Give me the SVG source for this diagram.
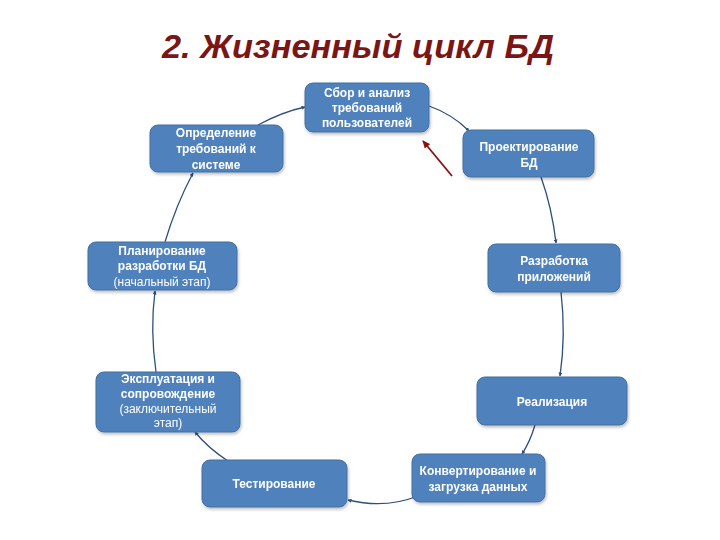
<svg xmlns="http://www.w3.org/2000/svg" width="720" height="540" viewBox="0 0 720 540">
<defs>
<style>
.title{font-family:"Liberation Sans",Arial,sans-serif;font-weight:bold;font-style:italic;font-size:34px;fill:#7a1616}
.box{fill:#4f81bd;stroke:#41709f;stroke-width:1}
.t{font-family:"Liberation Sans",Arial,sans-serif;font-weight:bold;font-size:12px;fill:#ffffff;text-anchor:middle;dominant-baseline:central}
.n{font-weight:normal}
.arc{fill:none;stroke:#2e4f7c;stroke-width:1.3;marker-end:url(#ah)}
</style>
<marker id="ah" markerWidth="4" markerHeight="4" refX="3.5" refY="2" orient="auto" markerUnits="userSpaceOnUse">
<path d="M0,0 L4,2 L0,4 z" fill="#2e4f7c"/>
</marker>
<marker id="rah" markerWidth="8" markerHeight="8" refX="7" refY="4" orient="auto" markerUnits="userSpaceOnUse">
<path d="M0,0.5 L8,4 L0,7.5 z" fill="#8b1010"/>
</marker>
<filter id="sh" x="-10%" y="-10%" width="120%" height="130%">
<feDropShadow dx="1" dy="2" stdDeviation="1.5" flood-color="#000" flood-opacity="0.25"/>
</filter>
</defs>
<rect width="720" height="540" fill="#ffffff"/>
<text class="title" x="358" y="58" text-anchor="middle" textLength="392" lengthAdjust="spacingAndGlyphs">2. Жизненный цикл БД</text>

<g id="connectors">
<path class="arc" d="M258,125 Q282,112 305,107"/>
<path class="arc" d="M429,106 Q452,114 469,131"/>
<path class="arc" d="M541,177 Q552,208 556,243"/>
<path class="arc" d="M561,292 Q566,335 560,376"/>
<path class="arc" d="M535,425 Q530,442 522,454"/>
<path class="arc" d="M418,496 Q385,509 348,500"/>
<path class="arc" d="M228,461 Q208,448 195,432"/>
<path class="arc" d="M156,372 Q150,330 155,291"/>
<path class="arc" d="M165,242 Q176,205 193,173"/>
<line x1="452" y1="176" x2="423" y2="141" stroke="#8b1010" stroke-width="1.8" marker-end="url(#rah)"/>
</g>

<g id="n1" filter="url(#sh)">
<rect class="box" x="150" y="125" width="133" height="47" rx="8"/>
<text class="t" x="216" y="133">Определение</text>
<text class="t" x="216" y="149">требований к</text>
<text class="t" x="216" y="165">системе</text>
</g>
<g id="n2" filter="url(#sh)">
<rect class="box" x="305" y="83" width="124" height="49" rx="8"/>
<text class="t" x="367" y="93">Сбор и анализ</text>
<text class="t" x="367" y="108">требований</text>
<text class="t" x="367" y="123">пользователей</text>
</g>
<g id="n3" filter="url(#sh)">
<rect class="box" x="463" y="130" width="131" height="47" rx="8"/>
<text class="t" x="529" y="147">Проектирование</text>
<text class="t" x="529" y="163">БД</text>
</g>
<g id="n4" filter="url(#sh)">
<rect class="box" x="488" y="244" width="132" height="48" rx="8"/>
<text class="t" x="554" y="261">Разработка</text>
<text class="t" x="554" y="277">приложений</text>
</g>
<g id="n5" filter="url(#sh)">
<rect class="box" x="477" y="377" width="150" height="48" rx="8"/>
<text class="t" x="552" y="402">Реализация</text>
</g>
<g id="n6" filter="url(#sh)">
<rect class="box" x="412" y="454" width="133" height="48" rx="8"/>
<text class="t" x="478" y="471">Конвертирование и</text>
<text class="t" x="478" y="487">загрузка данных</text>
</g>
<g id="n7" filter="url(#sh)">
<rect class="box" x="202" y="460" width="145" height="47" rx="8"/>
<text class="t" x="274" y="484">Тестирование</text>
</g>
<g id="n8" filter="url(#sh)">
<rect class="box" x="96" y="372" width="144" height="60" rx="8"/>
<text class="t" x="168" y="379">Эксплуатация и</text>
<text class="t" x="168" y="394">сопровождение</text>
<text class="t n" x="168" y="409">(заключительный</text>
<text class="t n" x="168" y="423">этап)</text>
</g>
<g id="n9" filter="url(#sh)">
<rect class="box" x="88" y="242" width="149" height="48" rx="8"/>
<text class="t" x="162" y="251">Планирование</text>
<text class="t" x="162" y="266">разработки БД</text>
<text class="t n" x="162" y="282">(начальный этап)</text>
</g>
</svg>
